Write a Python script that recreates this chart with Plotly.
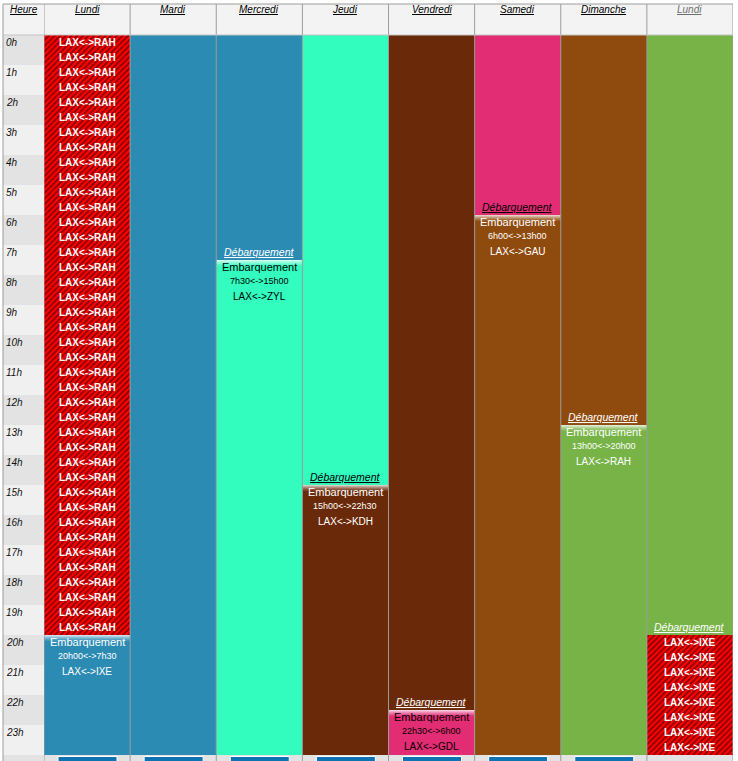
import plotly.graph_objects as go

W, H = 738, 761

# ---------------- data ----------------
days = ["Lundi", "Mardi", "Mercredi", "Jeudi", "Vendredi", "Samedi", "Dimanche", "Lundi"]
hour_labels = ["0h", "1h", "2h", "3h", "4h", "5h", "6h", "7h", "8h", "9h", "10h", "11h",
               "12h", "13h", "14h", "15h", "16h", "17h", "18h", "19h", "20h", "21h", "22h", "23h"]

trip_routes = ["LAX<->IXE", "LAX<->ZYL", "LAX<->KDH", "LAX<->GDL", "LAX<->GAU", "LAX<->RAH"]
trip_start_day = [0, 2, 3, 4, 5, 6]
trip_start_hour = [20, 7.5, 15, 22.5, 6, 13]
trip_end_day = [2, 3, 4, 5, 6, 7]
trip_end_hour = [7.5, 15, 22.5, 6, 13, 20]
trip_times = ["20h00<->7h30", "7h30<->15h00", "15h00<->22h30", "22h30<->6h00", "6h00<->13h00", "13h00<->20h00"]

conflict_routes = ["LAX<->RAH", "LAX<->IXE"]
conflict_day = [0, 7]
conflict_start = [0, 20]
conflict_end = [20, 24]

# ---------------- styles ----------------
trip_fill = ["#2C8BB3", "#33FCBF", "#6A2A09", "#E22C73", "#8F4B0E", "#77B347"]
trip_ink = ["white", "black", "white", "black", "white", "white"]
FONT = "Liberation Sans, Arial, sans-serif"
GRID = "#9c9c9c"

# pixel geometry of the table
X_LEFT, X_HOUR, X_RIGHT = 3, 44, 733
Y_TOP, Y_BODY, Y_BOTTOM = 4, 35, 755
COL_W = (X_RIGHT - X_HOUR) / len(days)
HOUR_PX = (Y_BOTTOM - Y_BODY) / 24


def px(p):
    return p / W


def py(p):
    return 1 - p / H


fig = go.Figure()

# trip blocks
for i, route in enumerate(trip_routes):
    xs, bases, lens = [], [], []
    for d in range(trip_start_day[i], min(trip_end_day[i], len(days) - 1) + 1):
        s = trip_start_hour[i] if d == trip_start_day[i] else 0
        e = trip_end_hour[i] if d == trip_end_day[i] else 24
        xs.append(d)
        bases.append(s)
        lens.append(e - s)
    fig.add_trace(go.Bar(x=xs, y=lens, base=bases, width=[1] * len(xs),
                         marker=dict(color=trip_fill[i], line=dict(width=0)),
                         hoverinfo="skip", showlegend=False))

# conflict blocks (hatched)
fig.add_trace(go.Bar(
    x=conflict_day, base=conflict_start,
    y=[e - s for s, e in zip(conflict_start, conflict_end)],
    width=[1] * len(conflict_day),
    marker=dict(color="#ff0000", line=dict(width=0),
                pattern=dict(shape="/", fgcolor="#000000", bgcolor="#ff0000",
                             size=4, solidity=0.4)),
    hoverinfo="skip", showlegend=False))

shapes = []
ann = []

# header background
shapes.append(dict(type="rect", xref="paper", yref="paper", x0=px(X_LEFT), x1=px(X_RIGHT),
                   y0=py(Y_BODY), y1=py(Y_TOP), fillcolor="#f3f3f3", line_width=0, layer="below"))
# bottom row background
shapes.append(dict(type="rect", xref="paper", yref="paper", x0=px(X_LEFT), x1=px(X_RIGHT),
                   y0=py(H + 2), y1=py(Y_BOTTOM), fillcolor="#e3e3e3", line_width=0, layer="below"))
# hour column stripes + labels
for h, lab in enumerate(hour_labels):
    shapes.append(dict(type="rect", xref="paper", yref="y", x0=px(X_LEFT), x1=px(X_HOUR),
                       y0=h, y1=h + 1, fillcolor="#e3e3e3" if h % 2 == 0 else "#f0f0f0",
                       line_width=0, layer="below"))
    ann.append(dict(xref="paper", yref="y", x=px(X_LEFT + 0.5), y=h + 7.5 / HOUR_PX,
                    xanchor="left", yanchor="middle", showarrow=False,
                    text=f"<i>{lab}</i>", font=dict(size=10, color="#111")))

# buttons in bottom row
for d in range(len(days) - 1):
    shapes.append(dict(type="rect", xref="x", yref="paper",
                       x0=d - 0.5 + 14 / COL_W, x1=d - 0.5 + 73 / COL_W,
                       y0=py(H + 14), y1=py(Y_BOTTOM + 1.5),
                       fillcolor="#0e72b3", line=dict(color="white", width=1)))

# gradients at boarding starts
alphas = [0.75, 0.6, 0.45, 0.32, 0.2, 0.1]
for i in range(len(trip_routes)):
    d, s = trip_start_day[i], trip_start_hour[i]
    for k, a in enumerate(alphas):
        shapes.append(dict(type="rect", xref="x", yref="y", x0=d - 0.5, x1=d + 0.5,
                           y0=s + k / HOUR_PX, y1=s + (k + 1) / HOUR_PX,
                           fillcolor=f"rgba(255,255,255,{a})", line_width=0, layer="above"))

# grid lines
for c in range(len(days) + 1):
    shapes.append(dict(type="line", xref="x", yref="paper", x0=c - 0.5, x1=c - 0.5,
                       y0=py(H + 2), y1=py(Y_TOP), line=dict(color=GRID, width=1), layer="above"))
shapes.append(dict(type="line", xref="paper", yref="paper", x0=px(X_LEFT), x1=px(X_LEFT),
                   y0=py(H + 2), y1=py(Y_TOP), line=dict(color=GRID, width=1), layer="above"))
shapes.append(dict(type="line", xref="paper", yref="paper", x0=px(X_LEFT), x1=px(X_RIGHT),
                   y0=py(Y_TOP), y1=py(Y_TOP), line=dict(color=GRID, width=1), layer="above"))
shapes.append(dict(type="line", xref="paper", yref="paper", x0=px(X_LEFT), x1=px(X_RIGHT),
                   y0=py(Y_BODY), y1=py(Y_BODY), line=dict(color="#c4c4c4", width=1), layer="above"))

# header labels
ann.append(dict(xref="paper", yref="paper", x=px((X_LEFT + X_HOUR) / 2), y=py(10),
                xanchor="center", yanchor="middle",
                text="<i><u>Heure</u></i>", showarrow=False, font=dict(size=10, color="black")))
for d, name in enumerate(days):
    ann.append(dict(xref="x", yref="paper", x=d, y=py(10), text=f"<i><u>{name}</u></i>",
                    xanchor="center", yanchor="middle", showarrow=False,
                    font=dict(size=10, color="#6e6e6e" if d == len(days) - 1 else "black")))

# boarding / landing texts
for i, route in enumerate(trip_routes):
    d, s = trip_start_day[i], trip_start_hour[i]
    ink = trip_ink[i]
    ann.append(dict(xref="x", yref="y", x=d, y=s + 7 / HOUR_PX, text="Embarquement",
                    showarrow=False, font=dict(size=11, color=ink)))
    ann.append(dict(xref="x", yref="y", x=d, y=s + 21 / HOUR_PX, text=trip_times[i],
                    showarrow=False, font=dict(size=9, color=ink)))
    ann.append(dict(xref="x", yref="y", x=d, y=s + 36 / HOUR_PX, text=route,
                    showarrow=False, font=dict(size=10, color=ink)))
    ed, eh = trip_end_day[i], trip_end_hour[i]
    if ed < len(days):
        ann.append(dict(xref="x", yref="y", x=ed, y=eh - 8 / HOUR_PX,
                        text="<i><u>Débarquement</u></i>", showarrow=False,
                        font=dict(size=10.5, color=ink)))

# hatched conflict texts (one per half hour)
for route, d, s, e in zip(conflict_routes, conflict_day, conflict_start, conflict_end):
    n = int(round((e - s) * 2))
    for k in range(n):
        ann.append(dict(xref="x", yref="y", x=d, y=s + 0.25 + 0.5 * k, text=route,
                        showarrow=False, font=dict(size=10, color="white", weight="bold")))

fig.update_layout(
    width=W, height=H, margin=dict(l=0, r=0, t=0, b=0),
    paper_bgcolor="white", plot_bgcolor="rgba(0,0,0,0)",
    font=dict(family=FONT, size=10, color="black"),
    barmode="overlay", bargap=0,
    xaxis=dict(domain=[px(X_HOUR), px(X_RIGHT)], range=[-0.5, len(days) - 0.5],
               visible=False, fixedrange=True),
    yaxis=dict(domain=[py(Y_BOTTOM), py(Y_BODY)], range=[24, 0], visible=False, fixedrange=True),
    shapes=shapes, annotations=ann, showlegend=False,
)

fig.write_html("out.html", config={"displayModeBar": False},
               post_script="document.body.style.margin='0';document.body.style.overflow='hidden';")
